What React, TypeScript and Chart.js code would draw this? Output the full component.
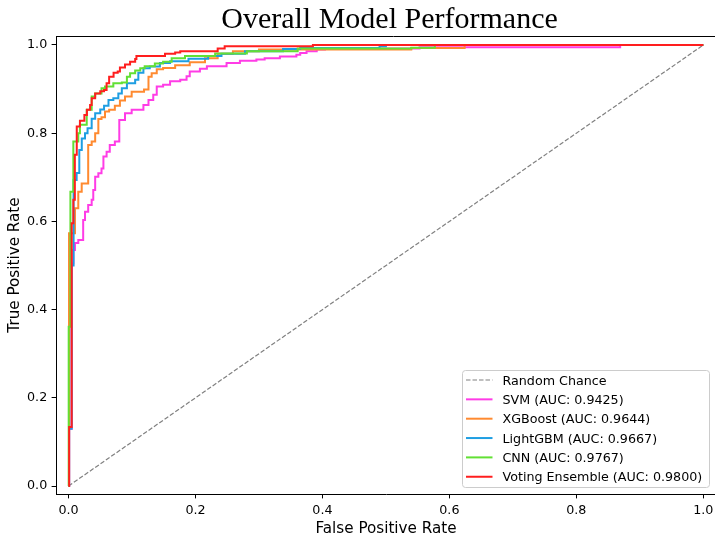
import React, { useEffect, useRef } from 'react';
import { Chart, registerables } from 'chart.js';

Chart.register(...registerables);

const SANS = '"DejaVu Sans", sans-serif';
const SERIF = '"Liberation Serif", "Times New Roman", serif';

const TITLE = 'Overall Model Performance';
const X_LABEL = 'False Positive Rate';
const Y_LABEL = 'True Positive Rate';
const TICK_VALUES = [0, 0.2, 0.4, 0.6, 0.8, 1.0];

const CHANCE_LABEL = 'Random Chance';
const chanceFpr = [0, 1];
const chanceTpr = [0, 1];

const svmLabel = 'SVM (AUC: 0.9425)';
const svmFpr = [0, 0.001, 0.005, 0.0076, 0.0102, 0.0154, 0.0231, 0.026, 0.031, 0.0365, 0.039, 0.042, 0.047, 0.052, 0.055, 0.06, 0.065, 0.073, 0.08, 0.089, 0.0995, 0.118, 0.126, 0.1335, 0.139, 0.149, 0.16, 0.176, 0.186, 0.191, 0.207, 0.218, 0.249, 0.27, 0.296, 0.309, 0.333, 0.359, 0.365, 0.375, 0.391, 0.404, 0.553, 0.869, 1.0];
const svmTpr = [0, 0.13, 0.505, 0.535, 0.551, 0.558, 0.603, 0.622, 0.637, 0.649, 0.671, 0.701, 0.709, 0.72, 0.747, 0.758, 0.773, 0.781, 0.83, 0.845, 0.853, 0.864, 0.875, 0.887, 0.906, 0.91, 0.918, 0.921, 0.929, 0.94, 0.946, 0.952, 0.959, 0.964, 0.967, 0.97, 0.974, 0.978, 0.982, 0.986, 0.99, 0.992, 0.995, 1.0, 1.0];

const xgbLabel = 'XGBoost (AUC: 0.9644)';
const xgbFpr = [0, 0.0008, 0.0102, 0.0154, 0.0208, 0.031, 0.0365, 0.042, 0.047, 0.052, 0.0575, 0.064, 0.073, 0.081, 0.089, 0.0995, 0.119, 0.126, 0.131, 0.139, 0.149, 0.168, 0.191, 0.215, 0.235, 0.259, 0.3, 0.54, 0.624, 1.0];
const xgbTpr = [0, 0.573, 0.63, 0.667, 0.686, 0.773, 0.781, 0.8, 0.832, 0.836, 0.849, 0.853, 0.862, 0.874, 0.883, 0.894, 0.899, 0.928, 0.936, 0.945, 0.948, 0.954, 0.961, 0.97, 0.98, 0.986, 0.99, 0.993, 1.0, 1.0];

const lgbmLabel = 'LightGBM (AUC: 0.9667)';
const lgbmFpr = [0, 0.001, 0.005, 0.008, 0.0128, 0.017, 0.0209, 0.026, 0.03, 0.0365, 0.042, 0.05, 0.056, 0.063, 0.0706, 0.0785, 0.084, 0.092, 0.105, 0.11, 0.118, 0.128, 0.144, 0.16, 0.189, 0.22, 0.241, 0.278, 0.338, 0.365, 0.49, 0.5, 1.0];
const lgbmTpr = [0, 0.13, 0.5, 0.694, 0.71, 0.762, 0.788, 0.8, 0.811, 0.833, 0.845, 0.854, 0.862, 0.875, 0.879, 0.89, 0.902, 0.913, 0.921, 0.937, 0.947, 0.951, 0.959, 0.963, 0.969, 0.975, 0.98, 0.986, 0.991, 0.993, 0.997, 1.0, 1.0];

const cnnLabel = 'CNN (AUC: 0.9767)';
const cnnFpr = [0, 0.0003, 0.003, 0.0076, 0.0154, 0.018, 0.0287, 0.0365, 0.042, 0.052, 0.0575, 0.0706, 0.084, 0.092, 0.097, 0.105, 0.113, 0.12, 0.136, 0.149, 0.1625, 0.1835, 0.231, 0.281, 0.361, 0.54, 0.577, 1.0];
const cnnTpr = [0, 0.361, 0.667, 0.781, 0.8, 0.819, 0.853, 0.883, 0.89, 0.902, 0.906, 0.913, 0.915, 0.928, 0.936, 0.942, 0.947, 0.952, 0.958, 0.962, 0.97, 0.975, 0.981, 0.986, 0.992, 0.994, 1.0, 1.0];

const ensLabel = 'Voting Ensemble (AUC: 0.9800)';
const ensFpr = [0, 0.001, 0.005, 0.0076, 0.01, 0.013, 0.018, 0.025, 0.029, 0.034, 0.0365, 0.042, 0.05, 0.056, 0.06, 0.064, 0.071, 0.0775, 0.081, 0.089, 0.097, 0.105, 0.107, 0.152, 0.168, 0.176, 0.235, 0.246, 0.385, 1.0];
const ensTpr = [0, 0.134, 0.596, 0.649, 0.751, 0.815, 0.828, 0.841, 0.853, 0.864, 0.879, 0.89, 0.895, 0.898, 0.913, 0.928, 0.937, 0.94, 0.949, 0.956, 0.962, 0.968, 0.975, 0.98, 0.983, 0.986, 0.992, 0.997, 1.0, 1.0];

const COLORS = {
  chance: '#808080',
  svm: '#FF3CE6',
  xgb: '#FF8A30',
  lgbm: '#1E9EE2',
  cnn: '#62E034',
  ens: '#FF1E1E',
};

const toPoints = (xs: number[], ys: number[]) => xs.map((x, i) => ({ x, y: ys[i] }));

const overlayPlugin = {
  id: 'overlay',
  afterDraw(chart: any) {
    const { ctx, chartArea } = chart;
    ctx.save();
    // top spine
    ctx.strokeStyle = '#000';
    ctx.lineWidth = 1;
    ctx.beginPath();
    ctx.moveTo(chartArea.left, chartArea.top + 0.5);
    ctx.lineTo(chartArea.right + 20, chartArea.top + 0.5);
    ctx.stroke();

    // title
    ctx.fillStyle = '#000';
    ctx.font = `30px ${SERIF}`;
    ctx.textAlign = 'center';
    ctx.textBaseline = 'alphabetic';
    ctx.fillText(TITLE, 389.5, 28);

    // legend
    const lx = 462.5, ly = 370.5, lw = 247, lh = 117;
    ctx.fillStyle = 'rgba(255,255,255,0.85)';
    ctx.strokeStyle = '#cccccc';
    ctx.lineWidth = 1;
    ctx.beginPath();
    if (ctx.roundRect) ctx.roundRect(lx, ly, lw, lh, 3);
    else ctx.rect(lx, ly, lw, lh);
    ctx.fill();
    ctx.stroke();

    const items = chart.data.datasets;
    ctx.font = `12.7px ${SANS}`;
    ctx.textAlign = 'left';
    items.forEach((ds: any, i: number) => {
      const y = 380 + 19.35 * i;
      ctx.strokeStyle = ds.borderColor;
      ctx.lineWidth = ds.borderWidth;
      ctx.setLineDash(ds.borderDash || []);
      ctx.beginPath();
      ctx.moveTo(466, y);
      ctx.lineTo(492.5, y);
      ctx.stroke();
      ctx.setLineDash([]);
      ctx.fillStyle = '#000';
      ctx.fillText(ds.label, 502.5, y + 4.6);
    });
    ctx.restore();
  },
};

export default function App() {
  const ref = useRef<HTMLCanvasElement | null>(null);
  useEffect(() => {
    if (!ref.current) return;
    const curve = (label: string, xs: number[], ys: number[], color: string, order: number) => ({
      label,
      data: toPoints(xs, ys),
      borderColor: color,
      backgroundColor: color,
      borderWidth: 2,
      stepped: 'before' as const,
      pointRadius: 0,
      fill: false,
      order,
    });
    const chart = new Chart(ref.current, {
      type: 'line',
      data: {
        datasets: [
          {
            label: CHANCE_LABEL,
            data: toPoints(chanceFpr, chanceTpr),
            borderColor: COLORS.chance,
            backgroundColor: COLORS.chance,
            borderWidth: 1.2,
            borderDash: [4.5, 2],
            pointRadius: 0,
            fill: false,
            order: 6,
          },
          curve(svmLabel, svmFpr, svmTpr, COLORS.svm, 5),
          curve(xgbLabel, xgbFpr, xgbTpr, COLORS.xgb, 4),
          curve(lgbmLabel, lgbmFpr, lgbmTpr, COLORS.lgbm, 3),
          curve(cnnLabel, cnnFpr, cnnTpr, COLORS.cnn, 2),
          curve(ensLabel, ensFpr, ensTpr, COLORS.ens, 1),
        ] as any,
      },
      options: {
        responsive: false,
        maintainAspectRatio: false,
        animation: false,
        devicePixelRatio: 1,
        layout: { padding: { top: 36, left: 0, right: 14, bottom: 0 } },
        plugins: {
          legend: { display: false },
          title: { display: false },
          tooltip: { enabled: false },
        },
        scales: {
          x: {
            type: 'linear',
            min: -0.0197,
            max: 1.02,
            afterBuildTicks: (s: any) => {
              s.ticks = TICK_VALUES.map((v) => ({ value: v }));
            },
            afterFit: (s: any) => {
              s.height = 47;
            },
            ticks: {
              callback: (v: any) => Number(v).toFixed(1),
              font: { family: SANS, size: 12.7 },
              color: '#000',
              padding: 5,
              maxRotation: 0,
              autoSkip: false,
            },
            grid: { drawOnChartArea: false, drawTicks: true, tickLength: 4.4, color: '#000', lineWidth: 1 },
            border: { display: true, color: '#000', width: 1 },
            title: {
              display: true,
              text: X_LABEL,
              font: { family: SANS, size: 15.2 },
              color: '#000',
              padding: { top: 0, bottom: 3 },
            },
          },
          y: {
            type: 'linear',
            min: -0.0181,
            max: 1.0204,
            afterBuildTicks: (s: any) => {
              s.ticks = TICK_VALUES.map((v) => ({ value: v }));
            },
            afterFit: (s: any) => {
              s.width = 56;
            },
            ticks: {
              callback: (v: any) => Number(v).toFixed(1),
              font: { family: SANS, size: 12.7 },
              color: '#000',
              padding: 4.4,
              autoSkip: false,
            },
            grid: { drawOnChartArea: false, drawTicks: true, tickLength: 4.4, color: '#000', lineWidth: 1 },
            border: { display: true, color: '#000', width: 1 },
            title: {
              display: true,
              text: Y_LABEL,
              font: { family: SANS, size: 15.2 },
              color: '#000',
              padding: { top: 6, bottom: 0 },
            },
          },
        },
      } as any,
      plugins: [overlayPlugin],
    });
    return () => chart.destroy();
  }, []);

  return (
    <div
      style={{
        position: 'fixed',
        left: 0,
        top: 0,
        width: 715,
        height: 541,
        overflow: 'hidden',
        background: '#fff',
      }}
    >
      <canvas ref={ref} width={730} height={541} style={{ width: 730, height: 541, display: 'block' }} />
    </div>
  );
}
